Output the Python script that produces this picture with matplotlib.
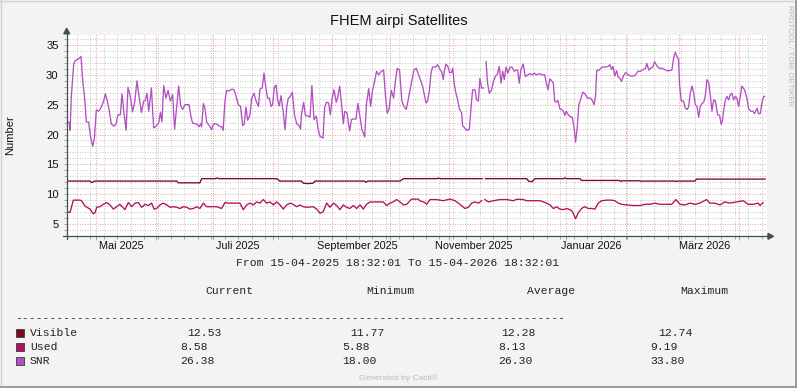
import numpy as np
import matplotlib
matplotlib.use("Agg")
import matplotlib.pyplot as plt
import matplotlib.dates as mdates
from matplotlib.patches import Rectangle, Polygon
from matplotlib.lines import Line2D
from matplotlib.ticker import MultipleLocator, NullFormatter
from datetime import datetime

W, H = 797, 388
start = datetime(2025, 4, 15, 18, 32, 1)

# Werte: Tage seit Start / Wert
vis_tage = [0, 12.0, 13.0, 14.5, 57.2, 58.0, 69.3, 70.2, 77.5, 78.3, 79.2, 109.3, 111.0,
            122.3, 123.2, 125.5, 128.4, 129.3, 155.0, 156.0, 157.0, 173.6, 175.4, 193.0,
            193.6, 194.5, 216.5, 217.2, 218.2, 239.7, 240.8, 242.5, 244.0, 259.0, 259.6,
            260.3, 267.5, 268.3, 288.0, 288.6, 289.5, 298.7, 299.5, 300.5, 317.0, 317.6,
            318.4, 327.4, 328.3, 364.0]
visible = [12.2, 12.2, 11.95, 12.2, 12.2, 11.9, 11.9, 12.6, 12.6, 12.72, 12.6, 12.6, 12.2,
           12.2, 11.85, 11.77, 11.85, 12.2, 12.2, 12.0, 12.2, 12.2, 12.6, 12.6,
           12.7, 12.6, 12.6, np.nan, 12.6, 12.6, 12.15, 12.1, 12.6, 12.6, 12.74,
           12.6, 12.6, 12.3, 12.3, 12.15, 12.25, 12.25, 12.15, 12.2, 12.2, 12.12,
           12.2, 12.2, 12.53, 12.53]

used_tage = [0, 1.6, 3.3, 6.8, 7.6, 9.4, 12.0, 13.7, 14.6, 15.5, 17.2, 18.9, 20.7, 22.4, 24.2,
             25.9, 27.6, 30.2, 32.0, 33.7, 35.5, 37.2, 38.9, 40.7, 42.4, 44.1, 45.4, 46.7,
             48.5, 50.2, 52.0, 53.7, 55.4, 57.2, 58.9, 60.7, 62.4, 64.1, 65.9, 67.6, 69.3,
             71.1, 72.8, 74.6, 78.0, 80.6, 82.4, 84.1, 86.7, 90.2, 91.9, 93.7, 95.4, 97.2,
             98.9, 100.6, 102.4, 104.1, 105.8, 107.6, 109.3, 111.1, 112.8, 114.5, 116.3,
             118.0, 119.7, 121.5, 123.2, 125.0, 128.4, 130.2, 131.9, 133.6, 135.4, 137.1,
             138.9, 140.6, 142.3, 144.1, 145.8, 147.5, 149.3, 151.0, 152.8, 154.5, 156.2,
             158.0, 161.5, 164.9, 166.7, 168.4, 170.1, 171.9, 173.6, 175.4, 177.1, 179.7,
             183.2, 184.0, 186.6, 187.5, 189.3, 192.7, 196.2, 199.7, 202.3, 204.9, 207.5,
             209.3, 211.0, 212.7, 214.5, 216.2, 217.2, 217.9, 219.7, 222.3, 225.8, 229.2,
             232.7, 234.5, 237.9, 239.7, 242.3, 246.7, 250.1, 251.8, 253.6, 255.3, 257.0,
             258.8, 260.5, 262.3, 263.6, 265.2, 266.6, 268.3, 270.0, 271.8, 273.5, 275.3,
             277.0, 278.8, 281.4, 284.0, 285.7, 287.4, 289.2, 291.8, 295.3, 298.7, 301.4,
             304.0, 306.6, 309.2, 312.7, 315.3, 317.5, 319.6, 322.2, 324.8, 327.4, 330.0,
             333.5, 335.2, 337.8, 340.4, 343.0, 345.6, 349.1, 352.6, 355.2, 357.8, 360.4,
             361.3, 363.0]
used = [7.06, 6.94, 9.0, 9.0, 8.9, 8.0, 7.5, 6.7, 6.9, 7.8, 7.9, 8.3, 8.6, 8.2, 7.5,
        7.9, 8.3, 7.4, 8.6, 7.9, 8.5, 8.6, 7.8, 8.3, 8.1, 8.5, 7.5, 7.6,
        8.2, 8.5, 8.2, 7.8, 7.9, 7.8, 7.6, 7.9, 7.8, 7.5, 7.6, 7.9, 7.6,
        8.5, 7.9, 7.9, 7.9, 7.6, 8.6, 8.5, 8.5, 8.5, 7.4, 8.2, 8.5, 8.2,
        8.7, 8.5, 9.1, 8.5, 8.7, 8.2, 8.7, 8.2, 7.5, 8.2, 8.5,
        8.3, 7.9, 8.2, 7.9, 7.8, 7.9, 7.5, 6.8, 7.06, 8.5, 7.8,
        8.5, 8.1, 7.4, 8.2, 7.8, 7.6, 8.1, 7.6, 8.2, 7.5, 8.3,
        8.7, 8.7, 8.7, 8.1, 8.5, 8.7, 9.1, 8.7, 8.2, 8.3, 9.17,
        9.17, 8.9, 8.6, 8.3, 9.1, 9.1, 8.9, 9.19, 8.9, 8.3, 7.6,
        7.8, 8.5, 8.7, 8.5, 8.9, np.nan, 9.1, 8.7, 8.9, 9.1, 9.1,
        8.9, 9.15, 9.1, 8.9, 8.9, 8.9, 8.5, 8.2, 7.6, 7.9, 7.5,
        7.4, 7.6, 7.4, 7.06, 5.88, 6.9, 7.6, 7.9, 7.6, 7.6, 7.5,
        8.5, 8.9, 9.0, 9.0, 8.9, 8.5, 8.3, 8.2, 8.1, 8.1, 8.3,
        8.3, 8.5, 8.3, 8.3, 8.3, 9.1, 8.3, 8.2, 8.5, 8.3, 8.5,
        9.1, 8.5, 8.5, 8.2, 8.7, 8.5, 8.7, 8.9, 8.3, 8.3, 8.5,
        8.1, 8.58]

snr_tage = [0, 1.2, 1.6, 2.3, 3.5, 4.3, 6.1, 7.3, 8.2, 9.2, 10.1, 11.3, 12.2, 13.4, 14.3,
            15.3, 16.5, 17.9, 19.1, 20.0, 20.9, 22.1, 23.1, 24.3, 25.5, 26.6, 27.8, 28.7,
            29.5, 30.8, 31.8, 33.0, 34.2, 35.3, 36.5, 37.7, 38.8, 40.0, 40.8, 41.7, 42.6,
            44.0, 45.2, 46.4, 47.8, 48.7, 49.5, 50.4, 51.6, 52.7, 53.9, 55.1, 56.1, 57.4,
            58.2, 59.3,
            60.3, 61.5, 63.6, 64.7, 65.5, 66.7, 68.0, 68.8, 69.7, 70.2, 71.1, 71.9, 72.8,
            74.2, 75.4, 76.3, 77.2, 78.4, 79.4, 80.6, 81.4, 82.4, 83.2, 84.6, 85.9, 87.1,
            88.1, 89.3, 90.5, 91.6, 92.4, 93.3, 94.2, 95.4, 96.3, 97.5, 98.5, 99.8, 100.6,
            101.8, 102.7, 103.7, 104.6, 105.5, 106.4, 107.2, 108.1, 109.0, 109.8, 110.7,
            111.6, 112.8, 113.7, 114.6, 115.4, 116.3, 117.5, 118.6, 119.8, 121.0, 121.8,
            122.2, 123.4, 124.3, 125.7, 126.7, 127.7, 128.8, 130.0, 130.9, 131.9, 133.5,
            134.3, 135.2, 136.4, 137.3, 138.3, 139.2, 140.4, 141.3, 142.2, 143.0, 144.1,
            144.8, 146.0, 147.4, 148.3, 149.5, 150.7, 151.7, 152.8, 153.8, 155.2, 156.2,
            157.3, 158.3, 159.2, 160.4, 161.4, 162.5, 163.9, 165.1, 166.0, 167.0, 167.9,
            169.1, 170.3, 171.2, 172.2, 173.4, 174.6, 175.7, 176.9, 177.8, 178.7, 179.9,
            180.9, 182.1,
            183.7, 184.6, 185.4, 186.3, 187.2, 188.0, 188.9, 189.8, 190.6, 192.0, 193.3,
            194.5, 195.5, 196.2, 196.7, 197.6, 198.6, 199.5, 200.5, 201.1, 202.0, 202.8,
            203.7, 204.6, 205.8, 206.3, 207.2, 208.0, 208.9, 209.8, 210.6, 211.5, 212.7,
            213.6, 214.5, 215.3, 216.2, 217.2, 217.8, 218.5, 219.3, 220.2, 221.4, 222.3,
            223.3, 224.5, 225.4, 226.3, 227.2, 228.0, 228.9, 229.9, 231.0, 232.0, 233.2,
            234.1, 235.0, 235.8, 236.7, 237.9, 239.0, 240.2, 241.4, 242.8, 243.6, 244.9,
            246.1, 247.8, 249.1, 249.9, 250.8, 251.7, 252.5, 253.6, 254.3, 255.1, 256.0,
            257.0, 257.9, 258.8, 259.6, 260.3, 261.4, 262.6, 263.5, 264.3, 265.2, 266.1,
            266.9, 267.8, 269.0, 270.4, 271.3, 273.0, 273.9, 274.8, 275.6, 276.2, 277.4,
            279.1, 280.9, 282.1, 283.1, 284.0, 284.7, 285.6, 286.6, 287.3, 288.3, 289.2,
            290.1, 291.3, 292.5, 293.9, 295.3, 296.5, 297.7, 299.1, 300.5, 301.7, 302.3,
            303.4, 304.3, 305.4, 306.4,
            307.6, 308.8, 310.2, 311.6, 312.8, 314.0, 315.4, 316.3, 317.2, 318.0, 318.9,
            319.4, 320.3, 321.5, 322.4, 323.3, 324.1, 325.0, 325.9, 326.7, 327.6, 328.5,
            329.4, 330.2, 331.1, 332.0, 332.8, 333.7, 334.6, 335.4, 336.3, 337.2, 338.0,
            339.3, 340.3, 341.1, 341.8, 342.4, 343.3, 344.1, 345.0, 345.9, 346.7, 347.6,
            348.5, 349.3, 350.2, 351.1, 351.9, 353.3, 354.5, 355.4, 356.6, 357.6, 358.5,
            359.8, 360.6, 361.5, 362.4, 363.3, 363.8]
snr = [22.1, 22.0, 20.7, 26.6, 31.8, 32.4, 32.7, 33.1, 28.9, 26.1, 22.1, 22.1, 19.8, 18.0, 19.4,
       24.1, 23.9, 24.6, 25.6, 26.8, 25.8, 23.9, 21.8, 21.4, 21.7, 23.3, 23.3, 26.8,
       24.2, 20.7, 27.9, 26.4, 23.8, 25.4, 29.0, 26.1, 23.7, 25.6, 25.7, 26.9, 23.9,
       27.8, 21.1, 21.4, 21.9, 23.7, 22.1, 28.2, 26.1, 27.4, 25.6, 26.7, 20.9, 25.3,
       28.1, 24.8,
       24.2, 25.0, 25.0, 22.9, 21.9, 21.8, 21.7, 21.3, 21.8, 21.3, 25.2, 24.4, 22.1,
       21.5, 20.8, 21.7, 21.8, 21.7, 21.4, 21.3, 20.7, 25.7, 27.4, 27.3, 27.6, 27.5,
       26.5, 25.0, 24.7, 21.5, 21.7, 24.6, 22.4, 23.3, 26.1, 26.9, 25.7, 24.7, 27.6,
       27.8, 30.3, 27.8, 26.1, 26.1, 24.7, 25.0, 27.9, 28.3, 25.8, 24.8,
       26.5, 23.6, 20.8, 24.7, 26.1, 26.3, 27.1, 23.3, 21.8, 21.5, 20.9,
       23.2, 25.4, 23.2, 23.1, 22.9, 28.2, 22.5, 23.1, 20.9, 19.7, 19.4,
       24.4, 25.4, 25.3, 23.3, 26.1, 27.5, 25.4, 26.4, 28.1, 25.6, 21.8,
       23.9, 23.6, 20.6, 22.5, 22.6, 22.6, 25.2, 22.9, 20.8, 19.6, 25.2,
       27.7, 24.7, 27.2, 28.9, 30.6, 30.0, 30.6, 30.8, 26.7, 23.6, 24.2,
       27.4, 26.1, 28.9, 31.1, 30.8, 25.6, 24.7, 24.2, 25.6, 27.2, 29.2,
       30.8, 31.1,
       29.7, 28.9, 28.1, 26.7, 25.3, 25.6, 27.2, 30.3, 31.3, 31.3, 31.7,
       30.9, 30.4, 29.2, 30.6, 31.8, 31.4, 30.4, 30.4, 31.1, 28.3, 26.9,
       25.8, 24.3, 23.6, 21.4, 21.2, 20.8, 20.7, 20.9, 24.2, 27.5, 27.5,
       25.8, 25.6, 29.4, 27.8, 27.8, np.nan, 32.2, 28.6, 26.9, 27.5, 28.9,
       29.7, 30.2, 31.4, 28.6, 30.6, 29.2, 31.3, 30.3, 31.3, 31.3, 30.6,
       30.8, 30.8, 28.6, 30.9, 31.8, 29.7, 30.0, 30.2, 30.0, 30.3, 30.0,
       30.2, 30.0, 30.0, 28.6, 27.5, 29.3, 29.1, 28.6, 25.6, 25.4, 25.7,
       24.3, 24.2, 23.9, 23.2, 23.9, 23.3, 22.9, 22.9, 21.4, 18.7, 21.4,
       25.0, 25.9, 27.1, 26.7, 26.1, 26.1, 25.7, 25.0, 26.4, 30.7, 30.8,
       31.3, 31.3, 31.4, 31.7, 30.9, 31.4, 29.8, 30.7, 29.7, 29.4, 28.9,
       29.8, 30.4, 30.0, 29.8, 29.8, 30.0, 30.6, 30.6, 30.9, 31.1, 31.9,
       30.8, 31.1, 31.3, 32.2,
       31.5, 31.1, 31.1, 30.9, 30.7, 30.7, 30.8, 32.8, 33.8, 33.1, 32.5,
       28.3, 25.6, 25.6, 24.4, 24.2, 24.6, 26.9, 28.1, 27.1, 25.0, 24.7,
       22.9, 24.7, 25.2, 25.4, 26.4, 29.2, 28.7, 26.7, 23.9, 25.8, 25.7,
       23.3, 23.2, 21.7, 22.4, 24.1, 25.8, 26.4, 25.8, 26.7, 26.9, 25.8,
       26.4, 26.1, 24.7, 26.4, 28.1, 27.5, 26.1, 24.3, 23.9, 23.9, 23.5,
       24.4, 23.5, 23.5, 25.4, 26.4, 26.38]

namen = ["Visible", "Used", "SNR"]
farben = ["#7a0a20", "#b5105c", "#b34fc2"]
current = ["12.53", "8.58", "26.38"]
minimum = ["11.77", "5.88", "18.00"]
average = ["12.28", "8.13", "26.30"]
maximum = ["12.74", "9.19", "33.80"]

monate = ["Mai 2025", "Juli 2025", "September 2025", "November 2025", "Januar 2026", "März 2026"]
monat_pos = [datetime(2025, 5, 14), datetime(2025, 7, 14), datetime(2025, 9, 14),
             datetime(2025, 11, 14), datetime(2026, 1, 14), datetime(2026, 3, 14)]


def fx(x):
    return x / W


def fy(y):
    return 1 - y / H


sans = "Liberation Sans"
mono = "Liberation Mono"
achse = "#3c5247"

fig = plt.figure(figsize=(W / 100, H / 100), dpi=100, facecolor="#f3f3f3")
ax = fig.add_axes([fx(67), fy(236.3), (767 - 67) / W, (236.3 - 34.5) / H])
ax.set_facecolor("white")

t0 = mdates.date2num(start)
for tage, werte, farbe in zip([vis_tage, used_tage, snr_tage], [visible, used, snr], farben):
    ax.plot(t0 + np.array(tage), werte, color=farbe, lw=0.95, zorder=3)

ax.set_xlim(t0, t0 + 365)
ax.set_ylim(2.94, 36.76)

# Gitter wie rrdtool
ax.xaxis.set_major_locator(mdates.MonthLocator(bymonthday=1))
ax.xaxis.set_minor_locator(mdates.WeekdayLocator(byweekday=mdates.MO))
ax.xaxis.set_major_formatter(NullFormatter())
ax.yaxis.set_major_locator(MultipleLocator(5))
ax.yaxis.set_minor_locator(MultipleLocator(1))
ax.grid(which="minor", color="#c8c8c8", lw=0.72, ls=(0, (1, 1.5)))
ax.grid(which="major", color="#eb9e9e", lw=0.72, ls=(0, (1, 1.5)))
ax.set_axisbelow(True)
for s in ax.spines.values():
    s.set_visible(False)
ax.tick_params(axis="y", which="both", length=2, width=0.6, color="#999999", pad=4,
               labelsize=8.1, labelcolor="#111111")
ax.tick_params(axis="x", which="major", length=3, width=0.6, color="#999999")
ax.tick_params(axis="x", which="minor", length=2, width=0.6, color="#999999")
for lab in ax.get_yticklabels():
    lab.set_fontfamily(sans)

for name, pos in zip(monate, monat_pos):
    ax.annotate(name, xy=(mdates.date2num(pos), 0), xycoords=("data", "axes fraction"),
                xytext=(0, -9.5), textcoords="offset pixels", ha="center", va="center",
                fontsize=7.8, family=sans, color="#111111")

# Achsen mit Pfeilen
fig.add_artist(Line2D([fx(66.7), fx(66.7)], [fy(238.5), fy(32)], color=achse, lw=0.9))
fig.add_artist(Line2D([fx(63), fx(770)], [fy(236.3), fy(236.3)], color=achse, lw=0.9))
fig.add_artist(Polygon([[fx(66.7), fy(28.3)], [fx(63.8), fy(33.8)], [fx(69.6), fy(33.8)]],
                       closed=True, color=achse, transform=fig.transFigure))
fig.add_artist(Polygon([[fx(773.5), fy(236.3)], [fx(768), fy(233.4)], [fx(768), fy(239.2)]],
                       closed=True, color=achse, transform=fig.transFigure))

# Rahmen
fig.add_artist(Line2D([fx(0.5), fx(0.5)], [fy(0), fy(388)], color="#d2d2d2", lw=1))
fig.add_artist(Line2D([fx(0), fx(797)], [fy(0.5), fy(0.5)], color="#d2d2d2", lw=1))
fig.add_artist(Line2D([fx(795.5), fx(795.5)], [fy(0), fy(388)], color="#9a9a9a", lw=1.4))
fig.add_artist(Line2D([fx(0), fx(797)], [fy(386.7), fy(386.7)], color="#9a9a9a", lw=1.4))

fig.text(fx(398.5), fy(21.5), "FHEM airpi Satellites", ha="center", va="center",
         fontsize=10.5, family=sans, color="#111111")
fig.text(fx(10), fy(135.5), "Number", rotation=90, ha="center", va="center",
         fontsize=8, family=sans, color="#111111")
fig.text(fx(789.5), fy(56), "RRDTOOL / TOBI OETIKER", rotation=-90, ha="center", va="center",
         fontsize=5.8, family=sans, color="#b8b8b8")

# Legende
fs = 8.2
fig.text(fx(397.5), fy(263.5), "From 15-04-2025 18:32:01 To 15-04-2026 18:32:01",
         ha="center", va="center", fontsize=fs, family=mono, color="#222222")
for txt, x in zip(["Current", "Minimum", "Average", "Maximum"], [205, 366, 526.7, 680.7]):
    fig.text(fx(x), fy(290.8), txt, ha="left", va="center", fontsize=fs, family=mono,
             color="#222222")
fig.text(fx(15.5), fy(318.5), "-" * 80, ha="left", va="center", fontsize=fs, family=mono,
         color="#222222")

zeilen_y = [332.7, 346.7, 360.7]
spalten_x = [[187, 350, 501.7, 658.3], [180, 342.7, 498.3, 650.7], [180, 342.7, 497.7, 650.7]]
for i, name in enumerate(namen):
    y = zeilen_y[i]
    fig.add_artist(Rectangle((fx(15.5), fy(y + 4.3)), 8.5 / W, 8.5 / H, facecolor=farben[i],
                             edgecolor="#2e3f36", lw=0.6, transform=fig.transFigure))
    fig.text(fx(30), fy(y), name, ha="left", va="center", fontsize=fs, family=mono,
             color="#222222")
    for wert, x in zip([current[i], minimum[i], average[i], maximum[i]], spalten_x[i]):
        fig.text(fx(x), fy(y), wert, ha="left", va="center", fontsize=fs, family=mono,
                 color="#222222")

fig.text(fx(398), fy(378.5), "Generated by Cacti®", ha="center", va="center",
         fontsize=6, family=sans, color="#bbbbbb")

fig.savefig("out.png", dpi=100, facecolor=fig.get_facecolor())
